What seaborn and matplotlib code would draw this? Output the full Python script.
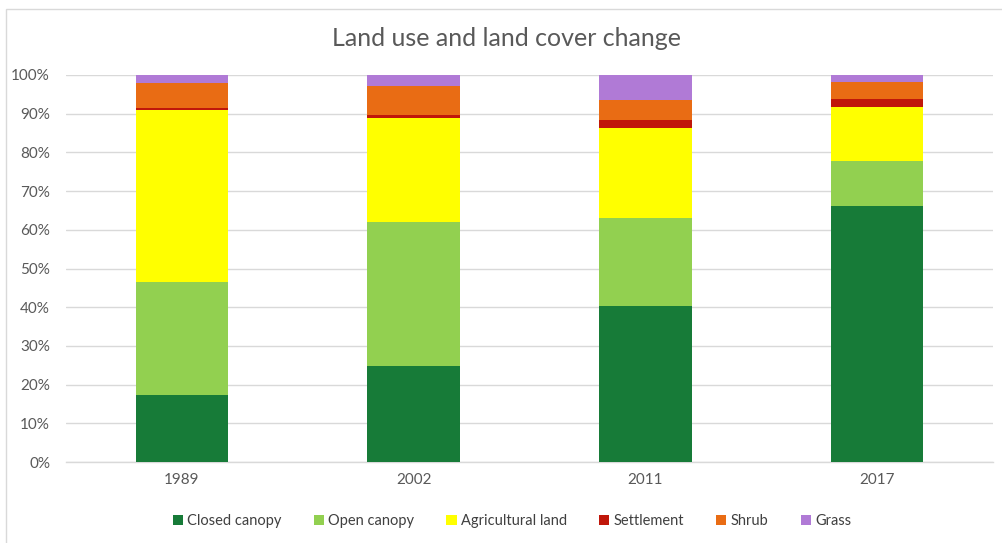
import matplotlib
matplotlib.use("Agg")
import matplotlib.pyplot as plt
from matplotlib.patches import Patch, Rectangle
import numpy as np
import pandas as pd
import seaborn as sns

years = ["1989", "2002", "2011", "2017"]
categories = ["Closed canopy", "Open canopy", "Agricultural land", "Settlement", "Shrub", "Grass"]
closed_canopy = [17.2, 24.8, 40.4, 66.1]
open_canopy = [29.4, 37.2, 22.6, 11.7]
agricultural = [44.4, 26.8, 23.3, 14.0]
settlement = [0.4, 0.9, 2.1, 2.1]
shrub = [6.5, 7.5, 5.2, 4.2]
grass = [2.1, 2.8, 6.4, 1.9]
colors = ["#177B38", "#92D050", "#FFFF00", "#C0170A", "#E96C14", "#B07AD6"]

series = [closed_canopy, open_canopy, agricultural, settlement, shrub, grass]
cum = np.cumsum(np.array(series), axis=0)

sns.set_theme(style="white")
plt.rcParams["font.family"] = ["Lato", "DejaVu Sans"]

fig = plt.figure(figsize=(10.03, 5.43), dpi=100)
ax = fig.add_axes([66 / 1003, (543 - 462) / 543, (993 - 66) / 1003, (462 - 75) / 543])

for i in range(len(categories) - 1, -1, -1):
    df = pd.DataFrame({"year": years, "value": cum[i]})
    sns.barplot(data=df, x="year", y="value", color=colors[i], width=0.4,
                saturation=1, linewidth=0, ax=ax, zorder=3)

ax.set_xlim(-0.5, 3.5)
ax.set_ylim(0, 100)
ax.set_yticks(np.arange(0, 101, 10))
ax.set_yticklabels([f"{v}%" for v in range(0, 101, 10)])
ax.yaxis.grid(True, color="#D9D9D9", linewidth=1, zorder=0)
ax.set_axisbelow(True)
for s in ["top", "right", "left"]:
    ax.spines[s].set_visible(False)
ax.spines["bottom"].set_color("#D9D9D9")
ax.spines["bottom"].set_linewidth(1)
ax.tick_params(axis="y", length=0, labelsize=11, colors="#595959", pad=11.5)
ax.tick_params(axis="x", length=0, labelsize=11, colors="#595959", pad=8)
ax.set_xlabel("")
ax.set_ylabel("")

fig.text(507 / 1003, 1 - 38 / 543, "Land use and land cover change", ha="center", va="center",
         fontsize=18, color="#595959")

handles = [Patch(facecolor=c, edgecolor="none", label=l) for c, l in zip(colors, categories)]
fig.legend(handles=handles, loc="center", bbox_to_anchor=(512 / 1003, 1 - 521 / 543), ncol=6,
           frameon=False, fontsize=10.5, handlelength=0.7, handleheight=0.7, handletextpad=0.3,
           columnspacing=2.2, labelcolor="#404040")

fig.patches.append(Rectangle((6 / 1003, -0.01), 1 - 6 / 1003, 1.01 - 9 / 543, transform=fig.transFigure,
                             fill=False, edgecolor="#D9D9D9", linewidth=1))

fig.savefig("out.png", dpi=100)
